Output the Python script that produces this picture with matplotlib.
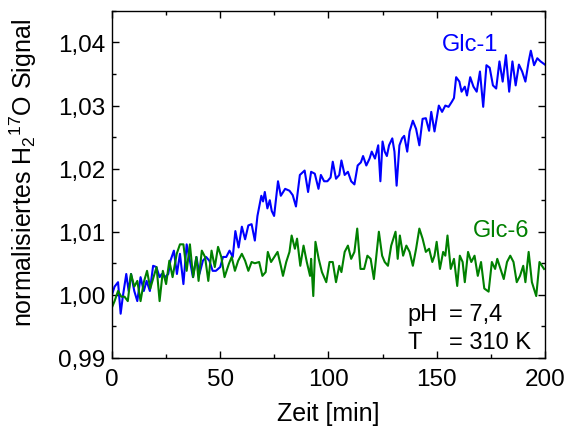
import matplotlib
matplotlib.use("Agg")
import matplotlib.pyplot as plt
from matplotlib.ticker import MultipleLocator

plt.rcParams['font.family'] = ['Liberation Sans', 'DejaVu Sans']
plt.rcParams['mathtext.default'] = 'regular'

# Glc-1 (blue)
t_glc1 = [0, 1.2, 2.8, 4, 5, 6.6, 7.7, 8.8, 10.3, 11.7, 13.2, 14.7, 16, 17.5, 19, 20.5,
          22, 23, 24.5, 26, 27, 28.6, 30, 31.4, 33, 34.5, 36, 37.4, 39, 40.4, 42, 43.5,
          45, 46.5, 48, 50, 51.3, 52.8, 54.3, 55.8, 57, 58.5, 60, 61.5, 63, 64.5, 66,
          67.2, 69, 69.8, 70.6, 71.8, 72.9, 73.8, 74.9, 76.7, 78, 80, 82, 83.5, 85,
          86.8, 89, 90.6, 92, 93.7, 95.4, 96.5, 98, 99.5, 101, 102, 103.5, 105, 106,
          107.5, 109, 110.5, 112, 113.5, 115, 116, 117.5, 119, 120, 121.5, 123, 124,
          125, 126, 127, 128, 129.5, 130.5, 131.5, 132.8, 134, 135, 136.4, 137.5, 139,
          140.5, 142, 143.5, 145, 146.5, 147.5, 149, 150, 151, 152.5, 154, 155.5, 157,
          158, 159, 160.5, 161.5, 163, 164, 165.5, 167, 168.5, 170, 171.5, 173, 174.5,
          176, 177.5, 179, 180.5, 182, 183.5, 185, 186.5, 188, 189.5, 191, 192.5,
          193.5, 195, 196.5, 198, 200]
y_glc1 = [1.000, 1.0013, 1.002, 0.997, 0.9997, 1.0033, 1.0006, 1.0033, 1.0006, 0.999,
          1.0028, 1.0006, 1.0022, 1.0006, 1.0046, 1.0044, 1.0028, 1.0033, 1.0028, 1.0033,
          1.0054, 1.007, 1.0033, 1.0065, 1.0017, 1.008, 1.0054, 1.0028, 1.006, 1.0033,
          1.0054, 1.006, 1.0054, 1.0038, 1.0038, 1.0044, 1.006, 1.006, 1.007, 1.006,
          1.0101, 1.0075, 1.0108, 1.0088, 1.011, 1.0112, 1.0086, 1.0125, 1.0157, 1.0148,
          1.0163, 1.0137, 1.015, 1.0133, 1.0125, 1.018, 1.0157, 1.0168, 1.0165, 1.0158,
          1.014, 1.019, 1.0197, 1.0163, 1.0195, 1.0192, 1.0168, 1.019, 1.018, 1.018,
          1.0186, 1.0211, 1.0184, 1.019, 1.0213, 1.019, 1.0195, 1.018, 1.0175, 1.0205,
          1.021, 1.022, 1.0205, 1.0216, 1.0227, 1.0216, 1.0237, 1.018, 1.0243, 1.0227,
          1.022, 1.0237, 1.0248, 1.0227, 1.0173, 1.0237, 1.0248, 1.0252, 1.0227, 1.0259,
          1.0276, 1.0263, 1.0237, 1.0279, 1.028, 1.026, 1.029, 1.0259, 1.028, 1.030,
          1.029, 1.030, 1.0298, 1.0306, 1.0312, 1.0345, 1.0338, 1.0322, 1.033, 1.0316,
          1.0345, 1.033, 1.0322, 1.0354, 1.0298, 1.0364, 1.036, 1.0332, 1.0327, 1.037,
          1.0338, 1.038, 1.0322, 1.037, 1.0332, 1.0365, 1.0354, 1.0338, 1.037, 1.0387,
          1.0364, 1.0375, 1.037, 1.0365]

# Glc-6 (green)
t_glc6 = [0, 1.2, 2.8, 4.3, 5.8, 7.3, 8.8, 10.3, 11.7, 13.2, 14.7, 16.2, 17.7, 19.2,
          20.6, 22, 23.5, 25, 26.5, 28, 29.9, 31.4, 33, 34.5, 36, 37.5, 39, 40, 41.5,
          43, 44.5, 46, 47.5, 49, 50.5, 52, 54, 55.3, 56.8, 58.3, 60, 61.5, 63, 64.5,
          66, 68, 69.5, 71, 72, 73.5, 75, 76.5, 78, 79, 80.5, 82, 83, 84.5, 85.5, 87,
          88.5, 90, 91.5, 92, 93, 94, 95.5, 97, 99, 100.5, 102, 103.5, 105, 106, 107.5,
          109, 110.5, 112, 113.3, 114.8, 116.5, 118, 119.5, 121, 122, 123.3, 124.8, 126,
          127.5, 129, 130, 131, 132, 133, 134.5, 136, 137.5, 139, 140.5, 142, 143.5,
          145, 146.5, 148, 149, 150, 151.5, 153, 154, 155, 156.5, 158, 159.5, 160.7,
          162, 163, 164.5, 166, 167.5, 169, 170.5, 172, 174, 175.5, 177, 178, 179.5,
          181, 182.5, 184, 185.5, 187, 188.5, 190, 191, 192.5, 194, 196, 197.5, 199.6]
y_glc6 = [0.998, 0.999, 1.0006, 0.9997, 0.9997, 0.999, 1.0033, 1.0013, 1.0022, 0.999,
          1.002, 1.0038, 1.001, 1.0028, 1.0044, 0.999, 1.0038, 1.0017, 1.0054, 1.0028,
          1.0065, 1.008, 1.008, 1.0038, 1.008, 1.0028, 1.006, 1.0022, 1.007, 1.006,
          1.0022, 1.007, 1.0044, 1.0076, 1.006, 1.0028, 1.0049, 1.006, 1.0038, 1.0054,
          1.0065, 1.0054, 1.0038, 1.0052, 1.005, 1.0052, 1.003, 1.0036, 1.0068, 1.0052,
          1.006, 1.0068, 1.0046, 1.003, 1.0052, 1.0068, 1.0094, 1.0073, 1.0089, 1.0046,
          1.0078, 1.0052, 1.003, 1.0057, 0.9998, 1.0084, 1.0057, 1.0036, 1.002, 1.0052,
          1.0052, 1.002, 1.0046, 1.0036, 1.0068, 1.0078, 1.0057, 1.0068, 1.0105, 1.0041,
          1.0041, 1.0062, 1.0057, 1.0025, 1.0057, 1.010, 1.0062, 1.0052, 1.0046, 1.0078,
          1.0089, 1.010, 1.0057, 1.0094, 1.0062, 1.0078, 1.0068, 1.0046, 1.0073, 1.0105,
          1.0089, 1.0068, 1.0073, 1.0052, 1.0062, 1.0084, 1.0041, 1.0068, 1.0062, 1.0094,
          1.0041, 1.0057, 1.0014, 1.0062, 1.0052, 1.002, 1.0068, 1.0052, 1.0062, 1.003,
          1.0052, 1.001, 1.0005, 1.0052, 1.0041, 1.0057, 1.0041, 1.0025, 1.0052, 1.0062,
          1.0052, 1.002, 1.003, 1.0046, 1.002, 1.0068, 1.002, 0.9998, 1.0052, 1.0041]

y_ticks = [0.99, 1.00, 1.01, 1.02, 1.03, 1.04]
y_ticklabels = ['0,99', '1,00', '1,01', '1,02', '1,03', '1,04']
x_ticks = [0, 50, 100, 150, 200]

fig = plt.figure(figsize=(5.67, 4.35), dpi=100)
ax = fig.add_axes([0.1975, 0.175, 0.7635, 0.7975])

ax.plot(t_glc1, y_glc1, color='#0000ff', lw=1.5)
ax.plot(t_glc6, y_glc6, color='#008000', lw=1.5)

ax.set_xlim(0, 200)
ax.set_ylim(0.99, 1.045)
ax.set_xticks(x_ticks)
ax.set_yticks(y_ticks)
ax.set_yticklabels(y_ticklabels)
ax.xaxis.set_minor_locator(MultipleLocator(25))
ax.yaxis.set_minor_locator(MultipleLocator(0.005))
ax.tick_params(which='both', direction='in', top=True, right=True, labelsize=17.5, width=1)
ax.tick_params(which='major', length=5)
ax.tick_params(which='minor', length=3)
ax.tick_params(axis='x', pad=7)
ax.tick_params(axis='y', pad=5)
for s in ax.spines.values():
    s.set_linewidth(1)

ax.set_xlabel('Zeit [min]', fontsize=18)
ax.set_ylabel(r'normalisiertes H$_2$$^{17}$O Signal', fontsize=18)
ax.yaxis.set_label_coords(-0.168, 0.535)
ax.xaxis.set_label_coords(0.5, -0.125)

ax.text(165.5, 1.0397, 'Glc-1', color='#0000ff', fontsize=17, ha='center', va='center')
ax.text(180, 1.0102, 'Glc-6', color='#008000', fontsize=17, ha='center', va='center')
ax.text(136.5, 0.9970, 'pH', fontsize=17, va='center')
ax.text(155.5, 0.9970, '= 7,4', fontsize=17, va='center')
ax.text(136.5, 0.9925, 'T', fontsize=17, va='center')
ax.text(155.5, 0.9925, '= 310 K', fontsize=17, va='center')

fig.savefig('out.png', dpi=100)
